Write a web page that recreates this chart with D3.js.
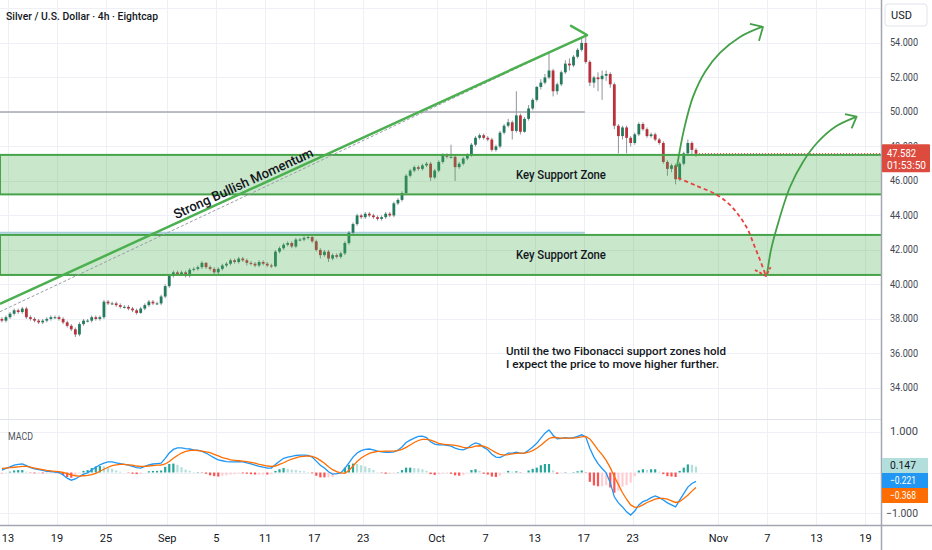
<!DOCTYPE html>
<html><head><meta charset="utf-8">
<script src="https://cdn.jsdelivr.net/npm/d3@7"></script>
<style>body{margin:0;background:#fff;overflow:hidden}svg{display:block;font-family:Roboto,"Noto Sans",sans-serif}</style>
</head><body><svg id="c" width="932" height="550"></svg>
<script>
// ---------- DATA ----------
const title = "Silver / U.S. Dollar · 4h · Eightcap";
const barStartDay = -0.5;      // trading-day index (0 = Aug 13) of the first bar
const barsPerDay = 3;
const firstOpen = 38.0;
const closes = [
37.9,38.1,38.3,38.5,38.4,38.6,38.1,38.0,37.9,37.8,
37.9,38.0,38.1,38.1,38.0,37.8,37.6,37.4,37.1,37.7,
37.9,37.9,38.1,38.0,38.1,39.0,38.9,38.9,38.8,38.7,
38.7,38.6,38.5,38.35,38.6,38.8,39.0,38.9,38.9,39.3,
39.9,40.5,40.7,40.6,40.7,40.5,40.85,40.9,41.0,41.25,
41.0,40.9,40.7,40.9,41.1,41.2,41.4,41.3,41.5,41.4,
41.25,41.2,41.1,41.3,41.2,41.1,41.05,41.9,42.1,42.3,
42.4,42.2,42.6,42.6,42.7,42.75,42.5,42.0,41.7,41.9,
41.5,41.7,41.6,41.8,42.4,43.0,43.5,44.0,43.9,44.1,
44.0,43.9,43.8,43.9,44.1,44.0,44.7,44.9,45.3,46.3,
46.6,46.8,46.7,46.9,47.0,46.2,46.6,47.1,47.5,47.4,
47.4,46.8,47.0,47.3,47.5,48.1,48.5,48.65,48.5,48.4,
47.8,48.0,48.8,49.2,49.4,48.9,49.8,48.85,49.6,50.2,
50.7,51.45,51.7,52.0,52.4,51.2,51.6,52.3,52.8,52.7,
53.2,53.6,54.0,52.9,51.7,52.0,51.9,52.1,52.2,51.6,
49.2,48.6,49.1,48.5,48.2,48.7,49.3,49.0,48.6,48.7,
48.4,48.2,47.1,46.7,46.9,46.1,47.0,47.6,48.2,47.8,
47.582];
const highs = [
38.1,38.2,38.4,38.6,38.6,38.7,38.7,38.2,38.1,38.0,
38.0,38.1,38.2,38.2,38.2,38.1,37.9,37.7,37.5,37.8,
38.0,38.0,38.2,38.2,38.2,39.1,39.1,39.0,39.0,38.9,
38.8,38.8,38.7,38.6,38.7,38.9,39.1,39.1,39.0,39.4,
40.0,40.6,40.8,40.8,40.8,40.8,40.95,41.0,41.1,41.35,
41.3,41.1,41.0,41.0,41.2,41.3,41.5,41.5,41.6,41.6,
41.5,41.35,41.3,41.4,41.4,41.3,41.2,42.0,42.2,42.4,
42.5,42.5,42.7,42.7,42.8,42.9,42.8,42.6,42.1,42.0,
42.0,41.8,41.8,41.9,42.5,43.1,43.6,44.1,44.1,44.2,
44.2,44.1,44.0,44.0,44.2,44.2,44.8,45.0,45.4,46.4,
46.7,46.9,46.9,47.0,47.1,47.1,46.7,47.2,47.6,47.6,
48.1,47.5,47.1,47.4,47.6,48.2,48.6,48.75,48.75,48.6,
48.5,48.1,48.9,49.3,49.6,49.5,51.2,49.9,49.7,50.4,
50.8,51.5,51.9,52.2,53.5,52.5,51.7,52.4,53.0,53.1,
53.3,53.7,54.3,54.5,53.0,52.1,52.3,52.4,52.4,52.3,
51.7,49.3,49.2,49.2,48.6,48.8,49.4,49.4,49.1,48.8,
48.8,48.5,48.3,47.2,47.0,47.0,47.1,47.7,48.4,48.3,
47.9];
const lows = [
37.8,37.8,38.0,38.2,38.3,38.3,38.0,37.9,37.8,37.7,
37.7,37.8,37.9,38.0,37.9,37.7,37.5,37.3,36.95,37.0,
37.6,37.8,37.8,37.9,37.9,38.0,38.8,38.8,38.7,38.6,
38.6,38.5,38.4,38.25,38.3,38.5,38.7,38.8,38.8,38.8,
39.2,39.8,40.4,40.5,40.5,40.4,40.4,40.75,40.8,40.9,
40.9,40.8,40.6,40.6,40.8,41.0,41.1,41.2,41.2,41.3,
41.1,41.1,41.0,41.0,41.1,41.0,40.95,41.0,41.8,42.0,
42.2,42.1,42.1,42.5,42.5,42.6,42.4,41.9,41.5,41.6,
41.3,41.4,41.5,41.5,41.7,42.3,42.9,43.4,43.8,43.8,
43.9,43.8,43.7,43.7,43.8,43.9,43.9,44.6,44.8,45.2,
46.2,46.5,46.6,46.6,46.8,46.0,46.1,46.5,47.0,47.3,
47.3,46.0,46.7,46.9,47.2,47.4,48.0,48.4,48.4,48.3,
47.7,47.7,47.9,48.7,49.1,48.4,48.8,48.7,48.8,49.5,
50.1,50.6,51.3,51.6,51.9,50.9,51.0,51.5,52.2,52.4,
52.6,53.1,53.5,52.8,51.5,51.4,51.2,50.7,51.8,51.4,
49.0,47.6,48.4,47.6,48.0,48.1,48.6,48.9,48.5,48.5,
48.3,48.1,47.0,46.3,46.5,45.8,46.0,46.9,47.5,47.5,
47.4];
const macdLine = [
0.06,0.10,0.14,0.18,0.20,0.21,0.17,0.12,0.09,0.07,
0.05,0.03,0.02,0.01,0.00,-0.06,-0.14,-0.19,-0.16,-0.10,
-0.04,-0.01,0.06,0.13,0.19,0.23,0.26,0.26,0.24,0.22,
0.20,0.18,0.15,0.12,0.11,0.15,0.19,0.21,0.22,0.23,
0.35,0.48,0.57,0.61,0.61,0.59,0.58,0.56,0.55,0.52,
0.48,0.42,0.36,0.31,0.29,0.27,0.26,0.26,0.27,0.26,
0.24,0.21,0.18,0.15,0.13,0.11,0.11,0.20,0.28,0.35,
0.38,0.40,0.42,0.43,0.43,0.42,0.38,0.28,0.18,0.11,
0.02,-0.04,-0.03,-0.01,0.10,0.24,0.38,0.48,0.54,0.57,
0.58,0.56,0.53,0.51,0.50,0.50,0.51,0.55,0.63,0.74,
0.80,0.85,0.89,0.90,0.86,0.76,0.70,0.68,0.68,0.67,
0.65,0.60,0.57,0.56,0.60,0.68,0.73,0.70,0.62,0.56,
0.45,0.38,0.37,0.42,0.48,0.48,0.50,0.47,0.48,0.55,
0.63,0.72,0.85,0.97,1.05,0.92,0.83,0.84,0.86,0.85,
0.86,0.89,0.93,0.88,0.60,0.38,0.22,0.10,-0.01,-0.25,
-0.60,-0.75,-0.85,-0.97,-1.05,-0.95,-0.80,-0.72,-0.68,-0.62,
-0.58,-0.62,-0.68,-0.75,-0.80,-0.85,-0.68,-0.52,-0.36,-0.27,
-0.221];
const signalLine = [
0.10,0.11,0.12,0.13,0.14,0.15,0.15,0.13,0.11,0.09,
0.07,0.05,0.04,0.03,0.02,0.00,-0.03,-0.06,-0.08,-0.09,
-0.08,-0.07,-0.05,-0.02,0.03,0.08,0.13,0.17,0.19,0.20,
0.20,0.19,0.18,0.16,0.15,0.15,0.16,0.17,0.18,0.18,
0.21,0.27,0.35,0.42,0.48,0.52,0.54,0.55,0.54,0.53,
0.51,0.49,0.45,0.41,0.37,0.34,0.31,0.30,0.29,0.28,
0.27,0.25,0.23,0.20,0.18,0.16,0.15,0.16,0.20,0.24,
0.29,0.33,0.36,0.39,0.40,0.41,0.40,0.36,0.30,0.23,
0.14,0.07,0.02,-0.01,-0.02,0.05,0.16,0.27,0.36,0.42,
0.47,0.50,0.52,0.52,0.53,0.53,0.53,0.54,0.57,0.62,
0.68,0.74,0.79,0.82,0.82,0.80,0.76,0.72,0.70,0.69,
0.68,0.67,0.65,0.62,0.61,0.62,0.65,0.66,0.65,0.61,
0.55,0.49,0.45,0.43,0.44,0.46,0.47,0.48,0.48,0.50,
0.54,0.60,0.67,0.76,0.84,0.87,0.86,0.85,0.85,0.85,
0.85,0.86,0.88,0.89,0.83,0.70,0.56,0.44,0.30,0.12,
-0.10,-0.30,-0.50,-0.66,-0.80,-0.86,-0.85,-0.80,-0.74,-0.70,
-0.66,-0.64,-0.64,-0.66,-0.70,-0.74,-0.72,-0.64,-0.56,-0.46,
-0.368];
const priceGridTicks = [34,36,38,40,42,44,46,48,50,52,54,56];
const priceLabelTicks = [34,36,38,40,42,44,46,48,50,52,54];
const macdTicks = [1,0,-1];
const macdLabelTicks = [1,-1];
const dateTickDays = [0,4,8,13,17,21,25,29,35,39,43,47,51,58,62,66,70];
const dateTickLabels = ["13","19","25","Sep","5","11","17","23","Oct","7","13","17","23","Nov","7","13","19"];
const timerText = "01:53:50";
// drawings (trading-day index, price)
const zoneTops = [47.51, 42.87];
const zoneBottoms = [45.22, 40.55];
const zoneLabels = ["Key Support Zone","Key Support Zone"];
const zoneLabelDay = 45.14;
const trendLine = [[-0.653,38.87],[47.27,54.46]];
const trendHead = [[45.96,54.99],[47.27,54.46]];
const trendDashed = [[-0.653,38.42],[47.1,54.4]];
const trendText = "Strong Bullish Momentum";
const trendTextAt = [19.2,45.88];
const hLineGrey = {price:50.0, from:-0.653, to:47.1};
const hLineBlue = {price:43.0, from:-0.653, to:47.1};
const arrowUp1 = [[54.61,46.81],[55.18,48.96],[55.92,50.87],[56.90,52.32],[58.12,53.42],[59.76,54.35],[61.55,54.93]];
const arrowUp1Head = [[60.57,55.10],[61.63,54.93],[61.31,54.12]];
const arrowUp2 = [[61.96,40.55],[62.29,42.0],[62.78,43.33],[63.84,45.65],[64.90,47.10],[66.04,48.20],[67.51,49.13],[69.20,49.70]];
const arrowUp2Head = [[68.33,49.87],[69.28,49.73],[68.87,49.05]];
const arrowDown = [[54.69,46.17],[56.24,45.71],[57.88,45.19],[58.94,44.61],[59.76,43.91],[60.41,43.16],[60.90,42.29],[61.39,41.42],[61.88,40.49]];
const arrowDownHead = [[60.98,40.84],[61.88,40.49],[62.26,41.0]];
const noteLines = ["Until the two Fibonacci support zones hold","I expect the price to move higher further."];
const noteAt = [40.65, 36.14, 35.38];

// ---------- LAYOUT ----------
const plotR = 881, paneSplit = 419.5, macdBot = 525;
const svg = d3.select("#c");
const x = d3.scaleLinear().domain([-0.653, 71.27]).range([0, plotR]);
const y = d3.scaleLinear().domain([56.49, 32.14]).range([0, 420]);
const ym = d3.scaleLinear().domain([1.296, -1.296]).range([420, 525]);
const barDay = i => barStartDay + i / barsPerDay;
const opens = closes.map((c, i) => i === 0 ? firstOpen : closes[i - 1]);
const hist = macdLine.map((m, i) => m - signalLine[i]);

const defs = svg.append("defs");
defs.append("clipPath").attr("id","cp").append("rect").attr("x",0).attr("y",0).attr("width",plotR).attr("height",paneSplit);
defs.append("clipPath").attr("id","cm").append("rect").attr("x",0).attr("y",paneSplit).attr("width",plotR).attr("height",macdBot-paneSplit);

svg.append("rect").attr("width",932).attr("height",550).attr("fill","#fff");

// grid
const grid = svg.append("g").attr("stroke","#eef0f5").attr("stroke-width",1);
grid.selectAll(".v").data(dateTickDays).join("line")
  .attr("x1",d=>Math.round(x(d))+0.5).attr("x2",d=>Math.round(x(d))+0.5).attr("y1",0).attr("y2",macdBot);
grid.selectAll(".h").data(priceGridTicks).join("line")
  .attr("x1",0).attr("x2",plotR).attr("y1",d=>Math.round(y(d))+0.5).attr("y2",d=>Math.round(y(d))+0.5);
grid.selectAll(".m").data(macdTicks).join("line")
  .attr("x1",0).attr("x2",plotR).attr("y1",d=>Math.round(ym(d))+0.5).attr("y2",d=>Math.round(ym(d))+0.5);

// price pane
const pp = svg.append("g").attr("clip-path","url(#cp)");
const line = d3.line().x(d=>x(d[0])).y(d=>y(d[1]));

pp.append("line").attr("x1",x(hLineGrey.from)).attr("x2",x(hLineGrey.to))
  .attr("y1",y(hLineGrey.price)).attr("y2",y(hLineGrey.price)).attr("stroke","#a6a9b0").attr("stroke-width",1.5);
pp.append("line").attr("x1",x(hLineBlue.from)).attr("x2",x(hLineBlue.to))
  .attr("y1",y(hLineBlue.price)).attr("y2",y(hLineBlue.price)).attr("stroke","#a8cfdc").attr("stroke-width",2);

// candles
const idx = d3.range(closes.length);
const cg = pp.append("g");
cg.selectAll(".w").data(idx).join("line")
  .attr("x1",i=>x(barDay(i))).attr("x2",i=>x(barDay(i)))
  .attr("y1",i=>y(highs[i])).attr("y2",i=>y(lows[i]))
  .attr("stroke","#8f939c").attr("stroke-width",1);
cg.selectAll(".b").data(idx).join("rect")
  .attr("x",i=>x(barDay(i))-1.4).attr("width",2.8)
  .attr("y",i=>y(Math.max(opens[i],closes[i])))
  .attr("height",i=>Math.max(1,Math.abs(y(opens[i])-y(closes[i]))))
  .attr("fill",i=>closes[i]>=opens[i]?"#237a5d":"#b8323c");

// zones
zoneTops.forEach((t,k)=>{
  pp.append("rect").attr("x",x(-0.653)).attr("width",plotR+4)
    .attr("y",y(t)).attr("height",y(zoneBottoms[k])-y(t))
    .attr("fill","rgba(76,175,80,0.3)").attr("stroke","#46a34a").attr("stroke-width",2);
  pp.append("text").attr("x",x(zoneLabelDay)).attr("y",y((t+zoneBottoms[k])/2))
    .attr("text-anchor","middle").attr("dominant-baseline","central")
    .attr("font-size",12.5).attr("font-weight",500).attr("fill","#131722")
    .attr("textLength",90).attr("lengthAdjust","spacingAndGlyphs").text(zoneLabels[k]);
});

// trend line
pp.append("path").attr("d",line(trendDashed)).attr("fill","none").attr("stroke","#9a9da6").attr("stroke-width",1).attr("stroke-dasharray","3,2");
pp.append("path").attr("d",line(trendLine)).attr("fill","none").attr("stroke","#4caf50").attr("stroke-width",2.5);
pp.append("path").attr("d",line(trendHead)).attr("fill","none").attr("stroke","#4caf50").attr("stroke-width",2.5).attr("stroke-linecap","round");
const ang = Math.atan2(y(trendLine[1][1])-y(trendLine[0][1]), x(trendLine[1][0])-x(trendLine[0][0]))*180/Math.PI;
pp.append("text").attr("transform",`translate(${x(trendTextAt[0])},${y(trendTextAt[1])}) rotate(${ang})`)
  .attr("text-anchor","middle").attr("dominant-baseline","central")
  .attr("font-size",13.5).attr("font-weight",500).attr("fill","#131722")
  .attr("textLength",152).attr("lengthAdjust","spacingAndGlyphs").text(trendText);

// curved arrows
const curve = d3.line().x(d=>x(d[0])).y(d=>y(d[1])).curve(d3.curveCatmullRom);
[[arrowUp1,arrowUp1Head],[arrowUp2,arrowUp2Head]].forEach(([p,h])=>{
  pp.append("path").attr("d",curve(p)).attr("fill","none").attr("stroke","#43a047").attr("stroke-width",1.8);
  pp.append("path").attr("d",line(h)).attr("fill","none").attr("stroke","#43a047").attr("stroke-width",1.8).attr("stroke-linejoin","round");
});
pp.append("path").attr("d",curve(arrowDown)).attr("fill","none").attr("stroke","#e8413f").attr("stroke-width",1.8).attr("stroke-dasharray","4,3");
pp.append("path").attr("d",line(arrowDownHead)).attr("fill","none").attr("stroke","#e8413f").attr("stroke-width",1.8).attr("stroke-dasharray","3,2");

// note
noteLines.forEach((t,k)=>{
  pp.append("text").attr("x",x(noteAt[0])).attr("y",y(noteAt[1+k]))
    .attr("dominant-baseline","central").attr("font-size",11).attr("font-weight",500).attr("fill","#131722")
    .attr("textLength",k===0?220:213).attr("lengthAdjust","spacingAndGlyphs").text(t);
});

// last price line
const lastI = closes.length-1, last = closes[lastI];
svg.append("line").attr("x1",x(barDay(lastI))).attr("x2",plotR).attr("y1",y(last)).attr("y2",y(last))
  .attr("stroke","#dd4b3e").attr("stroke-width",1).attr("stroke-dasharray","1,2");

// MACD pane
const mp = svg.append("g").attr("clip-path","url(#cm)");
mp.selectAll(".hb").data(idx).join("rect")
  .attr("x",i=>x(barDay(i))-1.1).attr("width",2.2)
  .attr("y",i=>ym(Math.max(0,hist[i]))).attr("height",i=>Math.abs(ym(hist[i])-ym(0)))
  .attr("fill",i=>{const up = i===0 || hist[i]>=hist[i-1];
     return hist[i]>=0 ? (up?"#26a69a":"#b2dfdb") : (up?"#ffcdd2":"#ff5252");});
const ml = d3.line().x((d,i)=>x(barDay(i))).y(d=>ym(d));
mp.append("path").attr("d",ml(macdLine)).attr("fill","none").attr("stroke","#2196f3").attr("stroke-width",1.3);
mp.append("path").attr("d",ml(signalLine)).attr("fill","none").attr("stroke","#ff6d00").attr("stroke-width",1.3);
svg.append("text").attr("x",8).attr("y",436).attr("dominant-baseline","central").attr("font-size",11).attr("fill","#50535e")
  .attr("textLength",25).attr("lengthAdjust","spacingAndGlyphs").text("MACD");

// separators
svg.append("line").attr("x1",0).attr("x2",plotR).attr("y1",paneSplit).attr("y2",paneSplit).attr("stroke","#e0e3eb").attr("stroke-width",1);
svg.append("line").attr("x1",0).attr("x2",932).attr("y1",525.5).attr("y2",525.5).attr("stroke","#a3a6af").attr("stroke-width",1.5);
svg.append("line").attr("x1",plotR+0.5).attr("x2",plotR+0.5).attr("y1",0).attr("y2",550).attr("stroke","#a3a6af").attr("stroke-width",1.5);

// title
svg.append("text").attr("x",6).attr("y",16).attr("dominant-baseline","central").attr("font-size",11.5).attr("font-weight",500)
  .attr("fill","#131722").attr("textLength",152).attr("lengthAdjust","spacingAndGlyphs").text(title);

// right price axis
const fmt = d3.format(".3f");
svg.append("rect").attr("x",885).attr("y",4).attr("width",42).attr("height",22).attr("rx",3).attr("fill","#fff").attr("stroke","#e0e3eb");
svg.append("text").attr("x",891).attr("y",15.5).attr("dominant-baseline","central").attr("font-size",11).attr("fill","#131722").text("USD");
const lyTag = y(closes[closes.length-1]) - 9.5;
defs.append("clipPath").attr("id","ca").append("rect").attr("x",882).attr("y",0).attr("width",50).attr("height",lyTag);
defs.append("clipPath").attr("id","cb").append("rect").attr("x",882).attr("y",lyTag+28).attr("width",50).attr("height",550);
const axisG = svg.append("g");
priceLabelTicks.forEach(d=>{
  const yy = y(d);
  const covered = yy > lyTag - 6 && yy < lyTag + 34;
  axisG.append("text").attr("x",890).attr("y",yy).attr("dominant-baseline","central").attr("font-size",11).attr("fill","#434651")
    .attr("clip-path", covered ? (yy < lyTag + 14 ? "url(#ca)" : "url(#cb)") : null)
    .attr("textLength",28).attr("lengthAdjust","spacingAndGlyphs").text(fmt(d));
});
// last price tag
const ly = y(last);
svg.append("rect").attr("x",882).attr("y",ly-9.5).attr("width",48).attr("height",28).attr("fill","#dd4b3e").attr("rx",1);
svg.append("text").attr("x",887).attr("y",ly).attr("dominant-baseline","central").attr("font-size",11).attr("fill","#fff")
  .attr("textLength",29).attr("lengthAdjust","spacingAndGlyphs").text(fmt(last));
svg.append("text").attr("x",887).attr("y",ly+12).attr("dominant-baseline","central").attr("font-size",11).attr("fill","#fff")
  .attr("textLength",39).attr("lengthAdjust","spacingAndGlyphs").text(timerText);

// MACD axis
svg.selectAll(".ml").data(macdLabelTicks).join("text")
  .attr("x",d=>d<0?886:890).attr("y",d=>ym(d)).attr("dominant-baseline","central").attr("font-size",11).attr("fill","#434651")
  .attr("textLength",d=>d<0?32:28).attr("lengthAdjust","spacingAndGlyphs").text(d=>fmt(d));
const tags = [
  {v: hist[lastI], fill:"#b2dfdb", col:"#131722", y0:458},
  {v: macdLine[lastI], fill:"#2196f3", col:"#fff", y0:473},
  {v: signalLine[lastI], fill:"#ff6d00", col:"#fff", y0:488}
];
tags.forEach(t=>{
  svg.append("rect").attr("x",882).attr("y",t.y0).attr("width",46).attr("height",15).attr("fill",t.fill);
  const s = fmt(t.v);
  svg.append("text").attr("x",s.startsWith("-")?886:890).attr("y",t.y0+7.5).attr("dominant-baseline","central")
    .attr("font-size",11).attr("fill",t.col).attr("textLength",s.startsWith("-")?32:26).attr("lengthAdjust","spacingAndGlyphs").text(s);
});

// bottom date axis
svg.selectAll(".dl").data(dateTickDays).join("text")
  .attr("x",d=>x(d)).attr("y",538).attr("text-anchor","middle").attr("dominant-baseline","central")
  .attr("font-size",11).attr("fill","#131722").text((d,i)=>dateTickLabels[i]);
</script></body></html>
